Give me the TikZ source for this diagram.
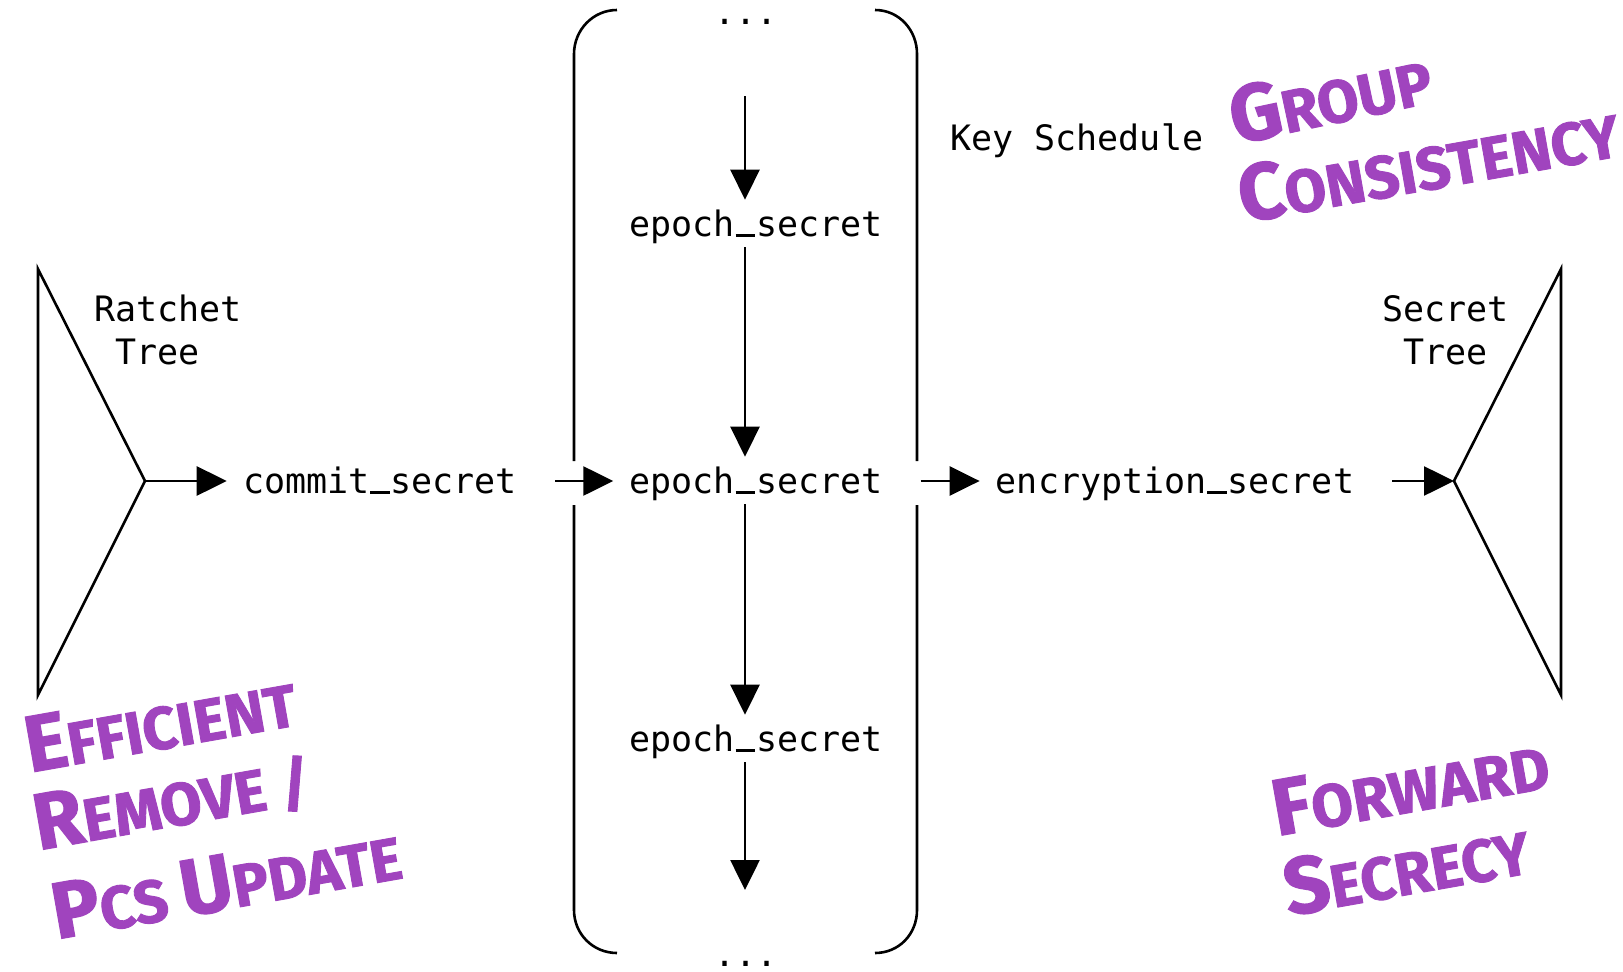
\documentclass[tikz,border=0pt]{standalone}
\usepackage{fontspec}
\usetikzlibrary{arrows.meta,calc}
\newfontfamily\mono{DejaVu Sans Mono}
\newfontfamily\hand{Fira Sans}[BoldFeatures={FakeBold=1.5}]
\definecolor{hw}{RGB}{160,68,190}
\newcommand{\hbig}[1]{{\fontsize{80}{80}\selectfont #1}}
\newcommand{\hsmall}[1]{{\fontsize{60}{60}\selectfont #1}}
\newcommand{\usc}{\makebox[0.602em]{\rule[-1pt]{0.56em}{2.6pt}}}
\begin{document}
\begin{tikzpicture}[x=1pt,y=-1pt,
  line width=2.6pt,
  lbl/.style={font=\fontsize{35}{43}\selectfont\mono, inner sep=0pt, text height=29pt, text depth=5pt},
  tlbl/.style={font=\fontsize{35}{43}\selectfont\mono, inner sep=0pt, align=left},
  dots/.style={font=\fontsize{35}{43}\selectfont\mono, inner sep=0pt, text height=6pt, text depth=0pt},
  arr/.style={-{Triangle[length=30pt,width=29pt]}, line width=2.6pt},
  note/.style={text=hw, font=\hand\bfseries, inner sep=0pt, rotate=10}]
\fill[white] (0,0) rectangle (1623,972);
\useasboundingbox (0,0) rectangle (1623,972);

% trees
\coordinate (apexL) at (145,481);
\coordinate (apexR) at (1454,481);
\draw (38,269) -- (apexL) -- (38,695) -- cycle;
\draw (1561,269) -- (apexR) -- (1561,695) -- cycle;
\node[tlbl, anchor=north west] (rt) at (93,294) {Ratchet\\\hphantom{R}Tree};
\node[tlbl, anchor=north west] (st) at (1381,294) {Secret\\\hphantom{S}Tree};

% key schedule bracket
\draw (617,10) .. controls (593,10) and (574,30) .. (574,54) -- (574,461);
\draw (574,505) -- (574,910) .. controls (574,934) and (593,953) .. (617,953);
\draw (875,10) .. controls (899,10) and (917,30) .. (917,54) -- (917,461);
\draw (917,505) -- (917,910) .. controls (917,934) and (899,953) .. (875,953);
\node[dots, anchor=base] (dtop) at (746,24) {...};
\node[dots, anchor=base] (dbot) at (746,966) {...};
\node[lbl, anchor=west] (ks) at (949,138) {Key Schedule};

% nodes
\node[lbl] (commit) at (380,481) {commit\usc secret};
\node[lbl] (e1) at (756,224) {epoch\usc secret};
\node[lbl] (e2) at (756,481) {epoch\usc secret};
\node[lbl] (e3) at (756,739) {epoch\usc secret};
\node[lbl] (enc) at (1175,481) {encryption\usc secret};
\coordinate (col) at (745,0);
\coordinate (vtop) at (745,96);
\coordinate (vbot) at (745,890);

% horizontal arrows
\draw[arr, shorten >=15pt] (apexL) -- (commit.west);
\draw[arr, shorten <=37pt, shorten >=15pt] (commit.east) -- (e2.west);
\draw[arr, shorten <=37pt, shorten >=15pt] (e2.east) -- (enc.west);
\draw[arr, shorten <=37pt] (enc.east) -- (apexR);

% vertical arrows
\draw[arr] (vtop) -- ($(e1.north -| col)+(0,-6)$);
\draw[arr] ($(e1.south -| col)+(0,5)$) -- ($(e2.north -| col)+(0,-6)$);
\draw[arr] ($(e2.south -| col)+(0,5)$) -- ($(e3.north -| col)+(0,-6)$);
\draw[arr] ($(e3.south -| col)+(0,5)$) -- (vbot);

% handwritten notes
\node[note, rotate=2] (group) at (1330,96) {\hbig{G}\hsmall{ROUP}};
\node[note] (cons) at (1428,162) {\hbig{C}\hsmall{ONSISTENCY}};
\node[note] (eff) at (160,722) {\hbig{E}\hsmall{FFICIENT}};
\node[note] (rem) at (172,802) {\hbig{R}\hsmall{EMOVE /}};
\node[note] (pcs) at (226,882) {\hbig{P}\hsmall{CS }\hbig{U}\hsmall{PDATE}};
\node[note] (fwd) at (1410,785) {\hbig{F}\hsmall{ORWARD}};
\node[note] (sec) at (1406,867) {\hbig{S}\hsmall{ECRECY}};
\end{tikzpicture}
\end{document}
